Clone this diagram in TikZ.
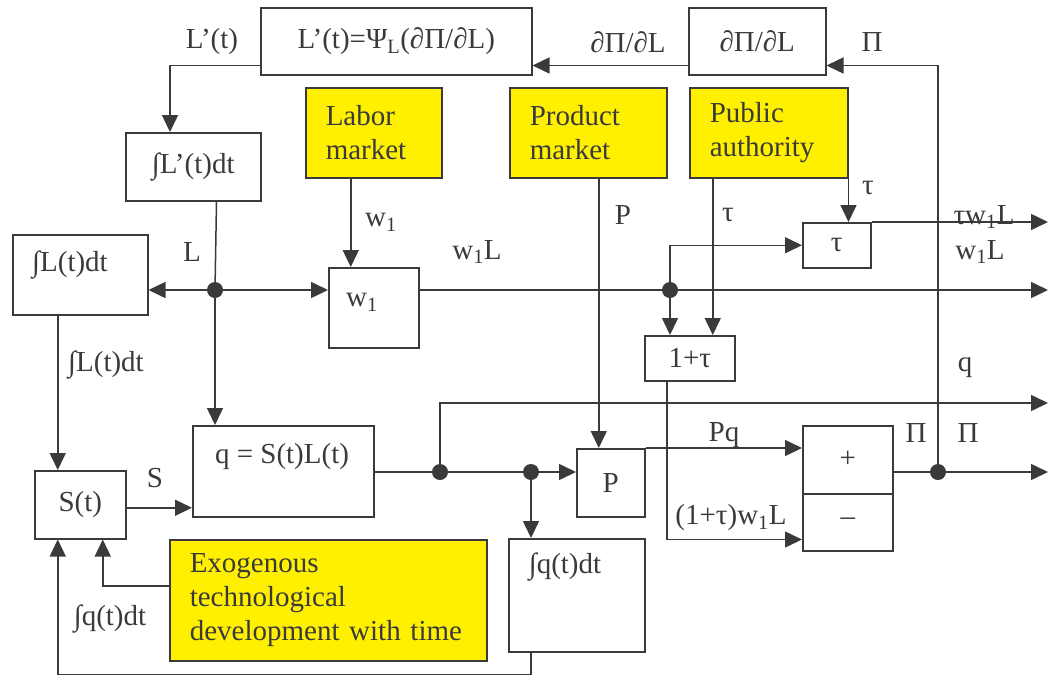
\documentclass[tikz,border=0pt]{standalone}
\usepackage{fontspec}
\setmainfont{Liberation Serif}
\usetikzlibrary{arrows.meta}
\definecolor{lineg}{RGB}{58,58,60}
\definecolor{mkty}{RGB}{255,240,0}
\newcommand\diagfont{\fontsize{29}{34}\selectfont}

\begin{document}
\begin{tikzpicture}[
    x=1pt, y=-1pt,
    every node/.style={font=\diagfont, text=lineg},
    blk/.style 2 args={draw=lineg, line width=1.5pt, inner sep=0pt, anchor=north west,
        minimum width=#1, minimum height=#2},
    mkt/.style 2 args={draw=lineg, line width=1.5pt, fill=mkty, anchor=north west, align=left,
        inner xsep=20pt, inner ysep=0pt, text width=#1, minimum height=#2},
    inlbl/.style={anchor=center, inner sep=0pt},
    lbl/.style={inner sep=0pt},
    dot/.style={circle, fill=lineg, minimum size=16pt, inner sep=0pt},
    arr/.style={draw=lineg, line width=1.5pt, -{Triangle[length=17pt,width=16pt]}},
    wire/.style={draw=lineg, line width=1.5pt}
]
\useasboundingbox (0,0) rectangle (1048,675);

% blocks
\node[blk={271}{67}] (LpB) at (260,7) {L’(t)=Ψ\textsubscript{L}(∂Π/∂L)};
\node[blk={137}{67}] (dPi) at (688,7) {∂Π/∂L};
\node[mkt={96}{90}] (LM) at (305,87) {Labor\\market};
\node[mkt={117}{90}] (PMk) at (509,87) {Product\\market};
\node[mkt={118}{90}] (PA) at (689,87) {Public\\authority};
\node[blk={135}{68}] (ILp) at (125,132) {∫L’(t)dt};
\node[blk={135}{80}, label={[inlbl, xshift=58pt, yshift=-31pt]north west:∫L(t)dt}] (IL) at (12,234) {};
\node[blk={90}{80}, label={[inlbl, xshift=34pt, yshift=-35pt]north west:w\textsubscript{1}}] (w1B) at (328,267) {};
\node[blk={68}{45}] (tB) at (802,222) {τ};
\node[blk={90}{45}] (oB) at (644,335) {1+τ};
\node[blk={181}{91}, label={[inlbl, xshift=90pt, yshift=-32pt]north west:q = S(t)L(t)}] (qB) at (192,425) {};
\node[blk={91}{68}] (SB) at (34,470) {S(t)};
\node[blk={68}{68}] (pB) at (576,448) {P};
\node[blk={136}{113}, label={[inlbl, xshift=57pt, yshift=-29pt]north west:∫q(t)dt}] (Iq) at (508,538) {};
\node[blk={90}{68}] (plusB) at (802,425) {+};
\node[blk={90}{57}] (minB) at (802,493) {–};
\node[mkt={277}{121}] (Exo) at (169,539) {Exogenous\\technological\\development with time};

% junctions and outlets
\node[dot] (Ld) at (215,290) {};
\node[dot] (Wd) at (670,290) {};
\node[dot] (Qd) at (440,472) {};
\node[dot] (Sd) at (531,472) {};
\node[dot] (Pd) at (938,472) {};
\coordinate (twout) at (1048,222);
\coordinate (wout) at (1048,290);
\coordinate (qout) at (1048,403);
\coordinate (piout) at (1048,472);
\coordinate (pin) at ([xshift=-12pt]pB.north);
\coordinate (tauin) at ([xshift=23pt]oB.north);
\coordinate (wlin) at ([xshift=-23pt]oB.south);

% connectors
\draw[arr] (Pd) |- ([yshift=10pt]dPi.south east);
\draw[arr] ([yshift=10pt]dPi.south west) -- ([yshift=10pt]LpB.south east);
\draw[arr] ([yshift=10pt]LpB.south west) -| ([xshift=45pt]ILp.north west);
\draw[wire] ([xshift=-45pt]ILp.south east) -- (Ld);
\draw[arr] (Ld) -- (Ld |- qB.north);
\draw[arr] (Ld) -- (Ld -| IL.east);
\draw[arr] (Ld) -- (Ld -| w1B.west);
\draw[arr] ([xshift=-23pt]LM.south) -- ([xshift=-23pt]w1B.north);
\draw[arr] (w1B.east |- Wd) -- (wout);
\draw[arr] (Wd) |- (tB.west);
\draw[arr] (Wd) -- (Wd |- oB.north);
\draw[arr] (PA.south -| tauin) -- (tauin);
\draw[arr] (PA.south east) -- (PA.south east |- tB.north);
\draw[arr] (tB.north east) -- (twout);
\draw[arr] (PMk.south -| pin) -- (pin);
\draw[wire] (qB.east |- Qd) -- (Qd) -- (Sd);
\draw[arr] (Qd) |- (qout);
\draw[arr] (Sd) -- (Sd -| pB.west);
\draw[arr] (Sd) -- (Sd |- Iq.north);
\draw[arr] (pB.north east) -- (pB.north east -| plusB.west);
\draw[arr] (wlin) |- ([yshift=12pt]minB.south west);
\draw[wire] (plusB.east |- Pd) -- (Pd);
\draw[arr] (Pd) -- (piout);
\draw[arr] ([xshift=-22.5pt]IL.south) -- ([xshift=-22.5pt]SB.north);
\draw[arr] ([yshift=-3pt]SB.east) -- ([yshift=-3pt]SB.east -| qB.west);
\draw[arr] ([yshift=14.5pt]Exo.west) -| ([xshift=22.5pt]SB.south);
\draw[arr] (Iq.south -| Sd) -- ++(0,22) -| ([xshift=-22.5pt]SB.south);

% signal labels
\node[lbl] (lLp) at (212,42) {L’(t)};
\node[lbl] (ldPi) at (628,42) {∂Π/∂L};
\node[lbl] (lPi) at (872,42) {Π};
\node[lbl] (lw) at (381,222) {w\textsubscript{1}};
\node[lbl] (lL) at (192,252) {L};
\node[lbl] (lwL) at (477,252) {w\textsubscript{1}L};
\node[lbl] (lP) at (623,215) {P};
\node[lbl] (ltau) at (728,215) {τ};
\node[lbl] (ltaub) at (868,188) {τ};
\node[lbl] (ltwL) at (984,217) {τw\textsubscript{1}L};
\node[lbl] (lwLb) at (980,252) {w\textsubscript{1}L};
\node[lbl] (lq) at (965,368) {q};
\node[lbl] (lIL) at (106,365) {∫L(t)dt};
\node[lbl] (lS) at (155,478) {S};
\node[lbl] (lPq) at (724,435) {Pq};
\node[lbl] (lPia) at (916,433) {Π};
\node[lbl] (lPib) at (968,433) {Π};
\node[lbl] (ltwl) at (731,518) {(1+τ)w\textsubscript{1}L};
\node[lbl] (lIq) at (110,619) {∫q(t)dt};
\end{tikzpicture}
\end{document}
